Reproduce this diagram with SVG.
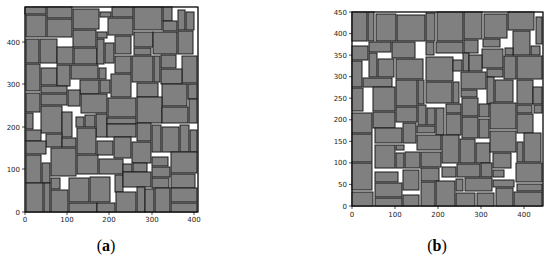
<svg xmlns="http://www.w3.org/2000/svg" width="550" height="259" viewBox="0 0 550 259">
<style>
.r rect{fill:#808080;stroke:#1a1a1a;stroke-width:1}
.frame{fill:#fff;stroke:#000;stroke-width:0.8}
.tk{stroke:#000;stroke-width:0.7}
.tl{font-family:"DejaVu Sans",sans-serif;font-size:7px;fill:#222}
.yl{text-anchor:end}
.xl{text-anchor:middle}
.cap{font-family:"Liberation Serif",serif;font-size:16px;fill:#000;text-anchor:middle}
</style>
<rect width="550" height="259" fill="#fff"/>
<g id="plot-a">
<rect class="frame" x="25" y="7" width="173" height="205"/>
<g class="r">
<rect x="25" y="7" width="21" height="7"/><rect x="47" y="7" width="25" height="11"/><rect x="73" y="9" width="26" height="20"/><rect x="100" y="12" width="11" height="5"/><rect x="112" y="7" width="21" height="10"/><rect x="134" y="7" width="28" height="23"/><rect x="163" y="7" width="9" height="14"/><rect x="178" y="10" width="7" height="20"/><rect x="186" y="12" width="8" height="18"/>
<rect x="26" y="15" width="20" height="22"/><rect x="47" y="19" width="25" height="18"/><rect x="108" y="18" width="25" height="17"/><rect x="163" y="21" width="14" height="10"/><rect x="97" y="32" width="10" height="6"/><rect x="73" y="30" width="23" height="17"/><rect x="134" y="32" width="19" height="15"/><rect x="153" y="32" width="24" height="22"/><rect x="178" y="31" width="15" height="23"/>
<rect x="26" y="39" width="13" height="24"/><rect x="40" y="39" width="17" height="24"/><rect x="57" y="47" width="16" height="17"/><rect x="74" y="48" width="23" height="16"/><rect x="97" y="39" width="7" height="25"/><rect x="105" y="43" width="9" height="20"/><rect x="115" y="36" width="16" height="18"/><rect x="134" y="48" width="17" height="7"/><rect x="115" y="56" width="16" height="17"/><rect x="132" y="56" width="21" height="26"/><rect x="154" y="56" width="6" height="26"/><rect x="161" y="55" width="15" height="13"/><rect x="182" y="56" width="15" height="27"/><rect x="161" y="69" width="21" height="15"/>
<rect x="26" y="64" width="14" height="27"/><rect x="41" y="68" width="16" height="17"/><rect x="57" y="65" width="13" height="21"/><rect x="71" y="65" width="27" height="14"/><rect x="99" y="68" width="7" height="11"/><rect x="111" y="74" width="20" height="23"/><rect x="80" y="80" width="19" height="14"/><rect x="100" y="80" width="10" height="13"/><rect x="137" y="83" width="21" height="14"/><rect x="162" y="84" width="25" height="22"/><rect x="188" y="84" width="9" height="15"/>
<rect x="41" y="86" width="26" height="7"/><rect x="41" y="94" width="26" height="11"/><rect x="68" y="90" width="12" height="16"/><rect x="26" y="93" width="14" height="19"/><rect x="81" y="94" width="26" height="19"/><rect x="108" y="98" width="28" height="19"/><rect x="137" y="97" width="25" height="26"/><rect x="162" y="107" width="26" height="16"/><rect x="189" y="99" width="8" height="24"/>
<rect x="41" y="106" width="21" height="27"/><rect x="62" y="112" width="10" height="25"/><rect x="26" y="113" width="7" height="16"/><rect x="76" y="117" width="8" height="10"/><rect x="85" y="115" width="10" height="12"/><rect x="96" y="114" width="11" height="23"/><rect x="107" y="118" width="29" height="6"/><rect x="107" y="124" width="29" height="13"/><rect x="137" y="123" width="14" height="18"/><rect x="152" y="125" width="9" height="27"/><rect x="162" y="127" width="17" height="25"/><rect x="180" y="125" width="9" height="27"/><rect x="190" y="130" width="7" height="22"/>
<rect x="26" y="130" width="15" height="11"/><rect x="46" y="134" width="16" height="13"/><rect x="62" y="138" width="14" height="9"/><rect x="77" y="128" width="19" height="26"/><rect x="26" y="141" width="20" height="13"/><rect x="97" y="141" width="16" height="14"/><rect x="114" y="137" width="17" height="21"/><rect x="132" y="142" width="19" height="21"/>
<rect x="26" y="155" width="15" height="28"/><rect x="42" y="163" width="8" height="20"/><rect x="51" y="148" width="25" height="28"/><rect x="77" y="155" width="21" height="19"/><rect x="99" y="159" width="24" height="15"/><rect x="123" y="164" width="9" height="8"/><rect x="133" y="163" width="14" height="9"/><rect x="152" y="157" width="16" height="9"/><rect x="152" y="167" width="18" height="10"/><rect x="171" y="152" width="26" height="21"/>
<rect x="115" y="175" width="8" height="17"/><rect x="123" y="172" width="28" height="15"/><rect x="152" y="178" width="17" height="10"/><rect x="171" y="174" width="24" height="14"/>
<rect x="26" y="183" width="17" height="29"/><rect x="44" y="183" width="6" height="29"/><rect x="51" y="178" width="9" height="11"/><rect x="51" y="190" width="17" height="22"/><rect x="69" y="178" width="20" height="24"/><rect x="90" y="177" width="20" height="25"/><rect x="69" y="203" width="28" height="9"/><rect x="97" y="203" width="18" height="9"/><rect x="116" y="192" width="20" height="20"/><rect x="137" y="187" width="8" height="25"/><rect x="145" y="189" width="9" height="23"/><rect x="155" y="188" width="15" height="24"/><rect x="171" y="188" width="26" height="14"/><rect x="171" y="203" width="26" height="9"/>
</g>
<rect x="25" y="7" width="173" height="205" fill="none" stroke="#000" stroke-width="0.8"/>
<g class="tk">
<line x1="22" y1="212" x2="25" y2="212"/><line x1="22" y1="169" x2="25" y2="169"/><line x1="22" y1="127" x2="25" y2="127"/><line x1="22" y1="84" x2="25" y2="84"/><line x1="22" y1="42" x2="25" y2="42"/>
<line x1="25" y1="212" x2="25" y2="215"/><line x1="67" y1="212" x2="67" y2="215"/><line x1="109" y1="212" x2="109" y2="215"/><line x1="152" y1="212" x2="152" y2="215"/><line x1="194" y1="212" x2="194" y2="215"/>
</g>
<g class="tl yl">
<text x="20" y="214.5">0</text><text x="20" y="171.5">100</text><text x="20" y="129.5">200</text><text x="20" y="86.5">300</text><text x="20" y="44.5">400</text>
</g>
<g class="tl xl">
<text x="25" y="222">0</text><text x="67" y="222">100</text><text x="109" y="222">200</text><text x="152" y="222">300</text><text x="194" y="222">400</text>
</g>
<text class="cap" x="106" y="251">(<tspan font-weight="bold">a</tspan>)</text>
</g>
<g id="plot-b">
<rect class="frame" x="352" y="12" width="191" height="194"/>
<g class="r">
<rect x="352" y="12" width="15" height="29"/><rect x="368" y="12" width="6" height="29"/><rect x="376" y="14" width="20" height="27"/><rect x="397" y="15" width="28" height="26"/><rect x="426" y="13" width="9" height="28"/><rect x="437" y="12" width="26" height="29"/><rect x="464" y="12" width="18" height="27"/><rect x="484" y="14" width="23" height="24"/><rect x="508" y="12" width="26" height="18"/><rect x="536" y="17" width="6" height="27"/>
<rect x="352" y="46" width="16" height="14"/><rect x="369" y="42" width="22" height="10"/><rect x="392" y="42" width="23" height="16"/><rect x="426" y="42" width="8" height="13"/><rect x="436" y="42" width="27" height="11"/><rect x="464" y="40" width="14" height="13"/><rect x="483" y="39" width="17" height="8"/><rect x="513" y="31" width="17" height="24"/><rect x="505" y="48" width="8" height="7"/><rect x="531" y="46" width="9" height="9"/><rect x="482" y="49" width="21" height="19"/>
<rect x="352" y="61" width="10" height="26"/><rect x="369" y="53" width="8" height="24"/><rect x="378" y="59" width="16" height="18"/><rect x="396" y="59" width="27" height="20"/><rect x="426" y="57" width="27" height="24"/><rect x="453" y="60" width="9" height="11"/><rect x="463" y="53" width="6" height="18"/><rect x="469" y="55" width="13" height="16"/><rect x="504" y="56" width="12" height="23"/><rect x="517" y="56" width="25" height="23"/><rect x="487" y="69" width="16" height="8"/>
<rect x="363" y="78" width="29" height="9"/><rect x="461" y="72" width="25" height="17"/><rect x="487" y="77" width="7" height="27"/><rect x="495" y="80" width="18" height="22"/><rect x="517" y="80" width="16" height="24"/><rect x="533" y="87" width="9" height="17"/><rect x="396" y="80" width="21" height="26"/><rect x="418" y="80" width="6" height="24"/><rect x="426" y="82" width="26" height="21"/><rect x="453" y="82" width="6" height="21"/>
<rect x="352" y="88" width="11" height="23"/><rect x="373" y="87" width="22" height="24"/><rect x="461" y="90" width="16" height="7"/><rect x="462" y="98" width="16" height="18"/><rect x="479" y="104" width="10" height="13"/><rect x="490" y="103" width="26" height="26"/><rect x="517" y="105" width="15" height="8"/><rect x="534" y="105" width="8" height="8"/>
<rect x="352" y="113" width="20" height="20"/><rect x="373" y="112" width="22" height="16"/><rect x="396" y="107" width="21" height="15"/><rect x="418" y="105" width="8" height="20"/><rect x="427" y="108" width="8" height="17"/><rect x="436" y="108" width="8" height="27"/><rect x="446" y="104" width="15" height="9"/><rect x="446" y="114" width="15" height="21"/><rect x="462" y="117" width="16" height="21"/><rect x="479" y="119" width="10" height="19"/><rect x="517" y="114" width="16" height="19"/>
<rect x="375" y="128" width="27" height="15"/><rect x="403" y="123" width="13" height="20"/><rect x="417" y="126" width="18" height="7"/><rect x="417" y="135" width="24" height="15"/><rect x="442" y="135" width="17" height="28"/><rect x="460" y="139" width="15" height="24"/><rect x="476" y="143" width="14" height="20"/><rect x="490" y="131" width="26" height="21"/><rect x="517" y="142" width="6" height="20"/><rect x="524" y="133" width="17" height="29"/><rect x="352" y="134" width="20" height="28"/>
<rect x="375" y="145" width="20" height="23"/><rect x="396" y="145" width="8" height="5"/><rect x="396" y="153" width="8" height="15"/><rect x="405" y="152" width="15" height="16"/><rect x="421" y="152" width="20" height="15"/><rect x="493" y="153" width="18" height="15"/>
<rect x="352" y="163" width="20" height="27"/><rect x="375" y="172" width="23" height="10"/><rect x="403" y="170" width="16" height="20"/><rect x="421" y="168" width="18" height="13"/><rect x="442" y="167" width="14" height="10"/><rect x="457" y="164" width="23" height="13"/><rect x="481" y="163" width="11" height="14"/><rect x="493" y="170" width="11" height="7"/><rect x="516" y="163" width="26" height="19"/>
<rect x="456" y="179" width="7" height="12"/><rect x="465" y="178" width="27" height="13"/><rect x="493" y="180" width="21" height="7"/><rect x="375" y="183" width="27" height="14"/><rect x="421" y="182" width="14" height="24"/><rect x="436" y="181" width="19" height="25"/><rect x="517" y="184" width="25" height="7"/>
<rect x="352" y="192" width="21" height="14"/><rect x="375" y="198" width="27" height="8"/><rect x="403" y="195" width="16" height="11"/><rect x="456" y="193" width="19" height="13"/><rect x="477" y="193" width="17" height="13"/><rect x="496" y="188" width="17" height="18"/><rect x="514" y="192" width="28" height="14"/>
</g>
<rect x="352" y="12" width="191" height="194" fill="none" stroke="#000" stroke-width="0.8"/>
<g class="tk">
<line x1="349" y1="206" x2="352" y2="206"/><line x1="349" y1="184.4" x2="352" y2="184.4"/><line x1="349" y1="162.9" x2="352" y2="162.9"/><line x1="349" y1="141.3" x2="352" y2="141.3"/><line x1="349" y1="119.8" x2="352" y2="119.8"/><line x1="349" y1="98.2" x2="352" y2="98.2"/><line x1="349" y1="76.7" x2="352" y2="76.7"/><line x1="349" y1="55.1" x2="352" y2="55.1"/><line x1="349" y1="33.6" x2="352" y2="33.6"/><line x1="349" y1="12" x2="352" y2="12"/>
<line x1="352" y1="206" x2="352" y2="209"/><line x1="395" y1="206" x2="395" y2="209"/><line x1="438" y1="206" x2="438" y2="209"/><line x1="481" y1="206" x2="481" y2="209"/><line x1="524" y1="206" x2="524" y2="209"/>
</g>
<g class="tl yl">
<text x="347" y="208.5">0</text><text x="347" y="186.9">50</text><text x="347" y="165.4">100</text><text x="347" y="143.8">150</text><text x="347" y="122.3">200</text><text x="347" y="100.7">250</text><text x="347" y="79.2">300</text><text x="347" y="57.6">350</text><text x="347" y="36.1">400</text><text x="347" y="14.5">450</text>
</g>
<g class="tl xl">
<text x="352" y="217">0</text><text x="395" y="217">100</text><text x="438" y="217">200</text><text x="481" y="217">300</text><text x="524" y="217">400</text>
</g>
<text class="cap" x="437" y="251">(<tspan font-weight="bold">b</tspan>)</text>
</g>
</svg>
